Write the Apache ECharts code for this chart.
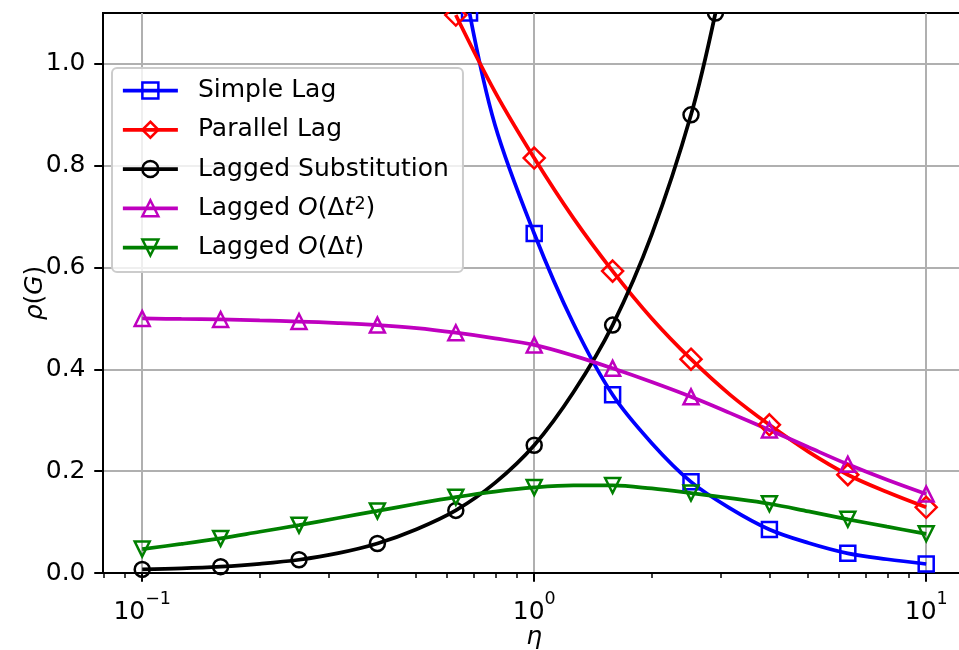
<!DOCTYPE html>
<html>
<head>
<meta charset="utf-8">
<script src="https://cdn.jsdelivr.net/npm/echarts@6/dist/echarts.min.js"></script>
<style>
  html, body { margin: 0; padding: 0; background: #ffffff; }
  #chart { width: 959px; height: 650px; }
</style>
</head>
<body>
<div id="chart"></div>
<script>
// η samples, ten per decade; markers are drawn on every second one (five per decade)
const etaGrid = [0.1, 0.1259, 0.1585, 0.1995, 0.2512, 0.3162, 0.3981, 0.5012, 0.631, 0.7943,
                 1, 1.259, 1.585, 1.995, 2.512, 3.162, 3.981, 5.012, 6.31, 7.943, 10];

// ρ(G) for each scheme at those η values (null = above the plotted range)
const simpleLag = [null, null, null, null, null, null, null, null, null, 0.88,
                   0.667, 0.49, 0.350, 0.255, 0.179, 0.127, 0.0855, 0.059, 0.0387, 0.027, 0.0177];
const parallelLag = [null, null, null, null, null, null, null, null, 1.096, 0.945,
                     0.815, 0.697, 0.593, 0.500, 0.420, 0.350, 0.291, 0.238, 0.193, 0.159, 0.129];
const laggedSubstitution = [0.007, 0.009, 0.0125, 0.018, 0.026, 0.039, 0.058, 0.086, 0.123, 0.177,
                            0.251, 0.355, 0.487, 0.665, 0.900, null, null, null, null, null, null];
const laggedSecondOrder = [0.500, 0.499, 0.498, 0.496, 0.494, 0.491, 0.487, 0.481, 0.472, 0.461,
                           0.448, 0.427, 0.402, 0.375, 0.346, 0.314, 0.281, 0.247, 0.2135, 0.183, 0.155];
const laggedFirstOrder = [0.047, 0.057, 0.068, 0.081, 0.094, 0.108, 0.122, 0.136, 0.149, 0.160,
                          0.168, 0.172, 0.172, 0.166, 0.157, 0.147, 0.136, 0.121, 0.1055, 0.091, 0.077];

// Points where the steep curves leave the top of the axes [η, ρ]
const simpleLagEdge = [0.684, 1.1];
const laggedSubstitutionEdge = [2.9, 1.1];

// Axis ticks
const xMajorTicks = [0.1, 1, 10];
const xMinorTicks = [0.08, 0.09, 0.2, 0.3, 0.4, 0.5, 0.6, 0.7, 0.8, 0.9, 2, 3, 4, 5, 6, 7, 8, 9];
const yTicks = [0, 0.2, 0.4, 0.6, 0.8, 1.0];
const xRange = [Math.pow(10, -1.1), Math.pow(10, 1.1)];
const yRange = [0, 1.1];

const FONT = 'DejaVu Sans';

// Build [η, ρ] items; only every second sample carries a marker
function toItems(values, edgeBefore, edgeAfter) {
  const out = [];
  if (edgeBefore) out.push({ value: edgeBefore.slice() });
  values.forEach((v, i) => {
    if (v === null) return;
    const item = { value: [etaGrid[i], v] };
    if (i % 2 === 1) item.symbol = 'none';
    out.push(item);
  });
  if (edgeAfter) out.push({ value: edgeAfter.slice() });
  return out;
}

function lineSeries(name, data, color, symbol, symbolSize, rotate) {
  return {
    name: name,
    type: 'line',
    data: data,
    smooth: 0.35,
    clip: true,
    symbol: symbol,
    symbolSize: symbolSize,
    symbolRotate: rotate || 0,
    lineStyle: { color: color, width: 3.75 },
    itemStyle: { color: 'rgba(0,0,0,0)', borderColor: color, borderWidth: 2.5 },
    emphasis: { disabled: true },
    animation: false
  };
}

const series = [
  lineSeries('Simple Lag', toItems(simpleLag, simpleLagEdge, null), '#0000ff', 'rect', 15),
  lineSeries('Parallel Lag', toItems(parallelLag, null, null), '#ff0000', 'diamond', 21),
  lineSeries('Lagged Substitution', toItems(laggedSubstitution, null, laggedSubstitutionEdge), '#000000', 'circle', 15),
  lineSeries('Lagged O(Δt²)', toItems(laggedSecondOrder, null, null), '#bf00bf', 'triangle', 15),
  lineSeries('Lagged O(Δt)', toItems(laggedFirstOrder, null, null), '#008000', 'triangle', 15, 180)
];

const legendText = {
  'Lagged O(Δt²)': 'Lagged {i|O}(Δ{i|t}{sup|2})',
  'Lagged O(Δt)': 'Lagged {i|O}(Δ{i|t})'
};

const powerLabel = v => {
  const p = Math.round(Math.log10(v));
  return '{b|10}{s|' + (p < 0 ? '\u2212' + (-p) : p) + '}';
};

const chart = echarts.init(document.getElementById('chart'), null, { renderer: 'canvas' });

chart.setOption({
  animation: false,
  backgroundColor: '#ffffff',
  textStyle: { fontFamily: FONT },
  grid: {
    left: 103, top: 13, right: -6.4, bottom: 77,
    outerBoundsMode: 'none',
    show: true, borderColor: '#000000', borderWidth: 2, backgroundColor: 'rgba(0,0,0,0)',
    containLabel: false
  },
  legend: {
    orient: 'vertical',
    left: 112, top: 68,
    padding: [10, 14, 12, 9],
    itemWidth: 55, itemHeight: 20, itemGap: 14.25,
    backgroundColor: 'rgba(255,255,255,0.8)',
    borderColor: '#cccccc', borderWidth: 2, borderRadius: 5,
    lineStyle: { width: 3.75 },
    itemStyle: { borderWidth: 2.5 },
    selectedMode: false,
    formatter: name => legendText[name] || name,
    textStyle: {
      fontFamily: FONT, fontSize: 25, lineHeight: 25, color: '#000000',
      padding: [0, 0, 0, 15],
      rich: {
        i: { fontFamily: FONT, fontStyle: 'italic', fontSize: 25, lineHeight: 25, color: '#000000' },
        sup: { fontFamily: FONT, fontSize: 17.5, lineHeight: 7, verticalAlign: 'top', color: '#000000' }
      }
    },
    data: series.map(s => s.name)
  },
  xAxis: [
    {
      type: 'log', logBase: 10,
      min: xRange[0], max: xRange[1],
      position: 'bottom',
      axisLine: { show: true, lineStyle: { color: '#000000', width: 2 } },
      axisTick: { show: true, customValues: xMajorTicks, length: 8.75, lineStyle: { color: '#000000', width: 2 } },
      axisLabel: {
        show: true, customValues: xMajorTicks, margin: 17.5,
        formatter: powerLabel,
        rich: {
          b: { fontFamily: FONT, fontSize: 25, lineHeight: 34, verticalAlign: 'bottom', color: '#000000' },
          s: { fontFamily: FONT, fontSize: 17.5, lineHeight: 18, verticalAlign: 'top', color: '#000000' }
        }
      },
      splitLine: { show: true, lineStyle: { color: '#b0b0b0', width: 2 } },
      name: 'η',
      nameLocation: 'middle',
      nameGap: 52,
      nameMoveOverlap: false,
      nameTextStyle: { fontFamily: FONT, fontStyle: 'italic', fontSize: 25, color: '#000000' }
    },
    {
      type: 'log', logBase: 10,
      min: xRange[0], max: xRange[1],
      position: 'bottom',
      axisLine: { show: false },
      axisTick: { show: true, customValues: xMinorTicks, length: 5, lineStyle: { color: '#000000', width: 1.5 } },
      axisLabel: { show: false },
      splitLine: { show: false }
    }
  ],
  yAxis: {
    type: 'value',
    min: yRange[0], max: yRange[1],
    axisLine: { show: true, lineStyle: { color: '#000000', width: 2 } },
    axisTick: { show: true, customValues: yTicks, length: 8.75, lineStyle: { color: '#000000', width: 2 } },
    axisLabel: {
      show: true, customValues: yTicks, margin: 17.5,
      formatter: v => v.toFixed(1),
      fontFamily: FONT, fontSize: 25, color: '#000000'
    },
    splitLine: { show: true, lineStyle: { color: '#b0b0b0', width: 2 } },
    name: '{i|ρ}({i|G})',
    nameLocation: 'middle',
    nameRotate: 90,
    nameGap: 55,
    nameMoveOverlap: false,
    nameTextStyle: {
      fontFamily: FONT, fontSize: 25, color: '#000000',
      rich: { i: { fontFamily: FONT, fontStyle: 'italic', fontSize: 25, color: '#000000' } }
    }
  },
  graphic: [
    {
      type: 'rect', z: 100,
      shape: { x: 0, y: 0, width: 959, height: 12 },
      style: { fill: '#ffffff' }
    }
  ],
  series: series
});
</script>
</body>
</html>
